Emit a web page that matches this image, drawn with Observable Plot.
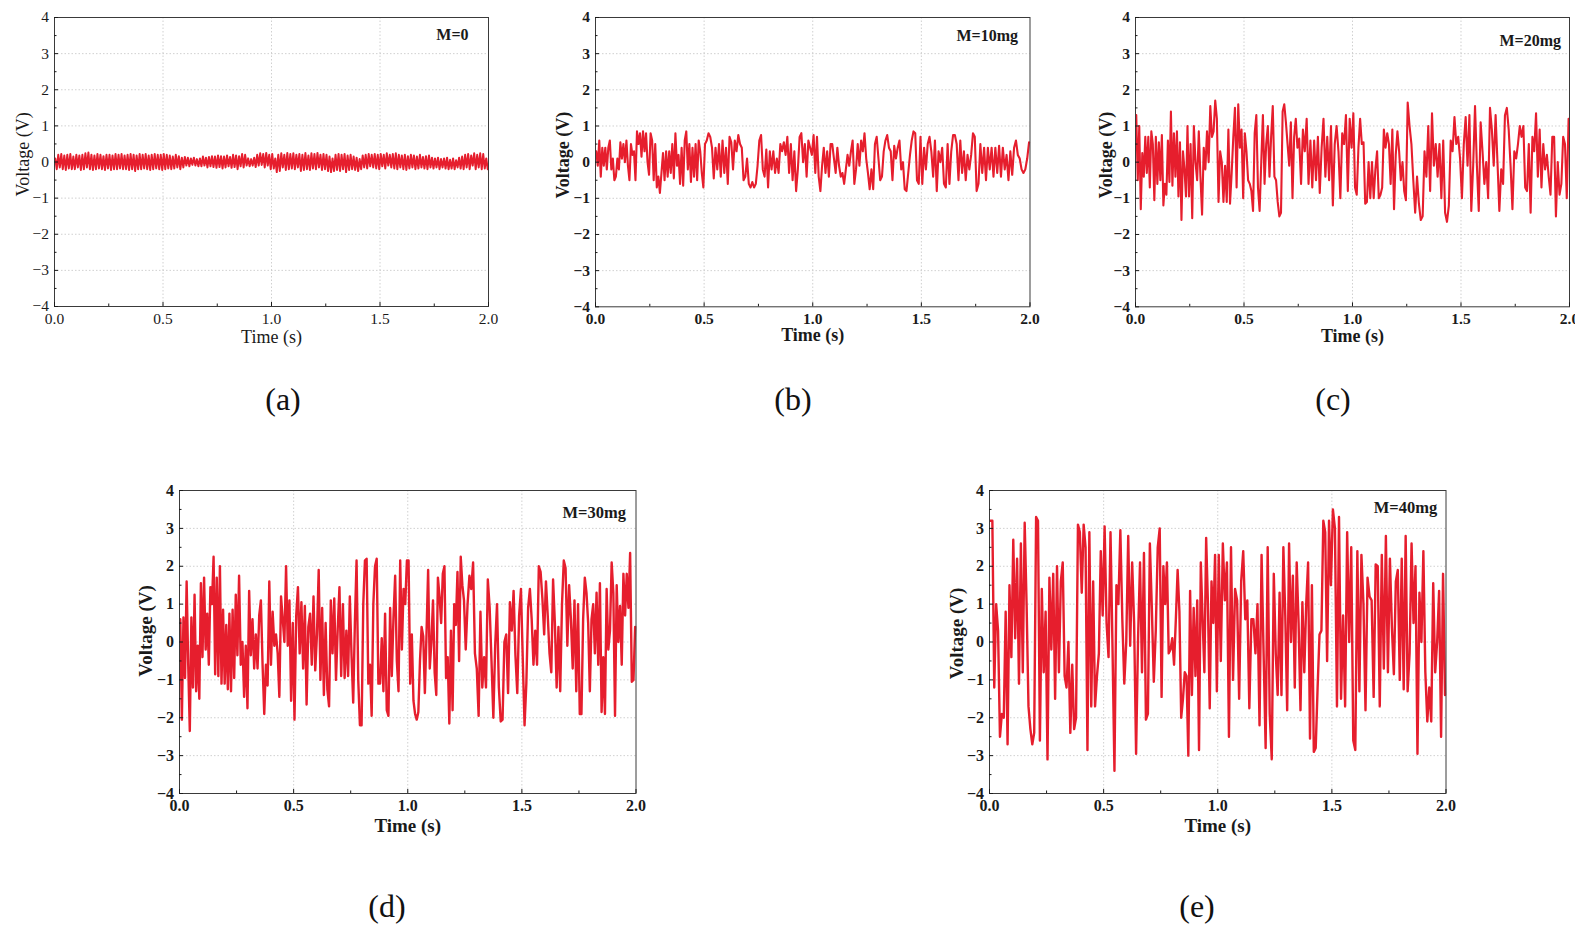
<!DOCTYPE html>
<html><head><meta charset="utf-8">
<script src="https://cdn.jsdelivr.net/npm/d3@7"></script>
<script src="https://cdn.jsdelivr.net/npm/@observablehq/plot@0.6"></script>
<style>
html,body{margin:0;padding:0;background:#fff;}
body{width:1596px;height:930px;overflow:hidden;position:relative;font-family:"Liberation Serif",serif;}
.panel{position:absolute;}
.panel svg{max-width:none !important;}
.cap{position:absolute;font-family:"Liberation Serif",serif;font-size:32px;line-height:1;transform:translate(-50%,-50%);color:#111;white-space:nowrap;}
</style></head><body>
<script>
// ---------- axes / labels ----------
const timeTicks = [0, 0.5, 1.0, 1.5, 2.0];
const timeMinor = [0.25, 0.75, 1.25, 1.75];
const timeGrid = [0.5, 1.0, 1.5];
const voltTicks = [-4, -3, -2, -1, 0, 1, 2, 3, 4];
const voltMinor = [-3.5, -2.5, -1.5, -0.5, 0.5, 1.5, 2.5, 3.5];
const voltGrid = [-3, -2, -1, 0, 1, 2, 3];
const xLabel = "Time (s)";
const yLabel = "Voltage (V)";
const massLabels = ["M=0", "M=10mg", "M=20mg", "M=30mg", "M=40mg"];
const captions = ["(a)", "(b)", "(c)", "(d)", "(e)"];
const segLen = 0.25; // each row below covers 0.25 s of the 2 s record

// ---------- voltage readings (V), one row per 0.25 s ----------
const voltA = [
 [0.1,-0.2,0.2,-0.15,0.22,-0.2,0.18,-0.22,0.2,-0.18,0.22,-0.2,0.15,-0.2,0.2,-0.15,0.18,-0.22,0.2,-0.2,0.24,-0.15,0.26,-0.2,0.2,-0.22,0.18,-0.2,0.22,-0.18,0.2,-0.2,0.16,-0.22,0.2,-0.18],
 [0.2,-0.22,0.18,-0.2,0.22,-0.2,0.2,-0.18,0.22,-0.2,0.18,-0.2,0.2,-0.22,0.22,-0.2,0.2,-0.25,0.18,-0.2,0.22,-0.2,0.2,-0.18,0.22,-0.2,0.18,-0.22,0.2,-0.2,0.22,-0.18,0.2,-0.2,0.2,-0.22],
 [0.22,-0.2,0.2,-0.18,0.18,-0.2,0.15,-0.18,0.2,-0.15,0.16,-0.2,0.12,-0.15,0.14,-0.1,0.12,-0.12,0.1,-0.08,0.12,-0.1,0.08,-0.12,0.1,-0.12,0.15,-0.1,0.12,-0.15,0.14,-0.12,0.16,-0.14,0.15,-0.16],
 [0.18,-0.14,0.16,-0.18,0.15,-0.15,0.18,-0.12,0.14,-0.16,0.2,-0.14,0.18,-0.2,0.16,-0.12,0.22,-0.15,0.2,-0.1,0.1,-0.12,0.08,-0.1,0.12,-0.14,0.2,-0.1,0.24,-0.08,0.22,-0.15,0.25,-0.1,0.2,-0.2],
 [0.22,-0.18,0.1,-0.28,0.2,-0.25,0.24,-0.15,0.2,-0.22,0.25,-0.2,0.22,-0.18,0.24,-0.2,0.2,-0.15,0.22,-0.25,0.2,-0.22,0.25,-0.2,0.18,-0.22,0.24,-0.18,0.22,-0.2,0.25,-0.15,0.2,-0.22,0.22,-0.2],
 [0.2,-0.25,0.15,-0.28,0.1,-0.25,0.2,-0.22,0.22,-0.25,0.2,-0.2,0.22,-0.28,0.18,-0.22,0.2,-0.2,0.15,-0.22,0.12,-0.25,0.08,-0.2,0.18,-0.15,0.2,-0.18,0.22,-0.12,0.2,-0.15,0.22,-0.18,0.2,-0.2],
 [0.22,-0.12,0.2,-0.18,0.24,-0.1,0.2,-0.15,0.22,-0.18,0.24,-0.2,0.2,-0.15,0.18,-0.2,0.2,-0.22,0.16,-0.18,0.2,-0.15,0.18,-0.2,0.15,-0.18,0.2,-0.15,0.14,-0.18,0.16,-0.2,0.18,-0.15,0.12,-0.18],
 [0.1,-0.15,0.12,-0.2,0.08,-0.15,0.1,-0.18,0.12,-0.2,0.06,-0.18,0.1,-0.2,0.05,-0.15,0.12,-0.18,0.15,-0.2,0.2,-0.15,0.22,-0.2,0.18,-0.1,0.24,-0.2,0.2,-0.15,0.24,-0.2,0.22,-0.18,0.1,-0.2]
];
const voltB = [
 [0.3,-0.1,0.6,-0.4,0.4,-0.1,0.4,-0.2,0.4,0.6,-0.2,0.1,-0.5,-0.4,0.1,-0.2,0.55,0.1,0.5,0.0,0.6,-0.1,-0.5,0.5,0.2,0.3,-0.5,0.85,0.5,0.8,0.15,0.85,0.3,0.8,0.0,-0.35],
 [0.8,0.6,-0.5,0.5,-0.7,-0.4,-0.85,-0.3,0.25,-0.5,0.3,-0.4,0.3,-0.3,0.5,-0.45,0.8,-0.1,0.2,-0.6,0.4,-0.65,0.6,0.85,-0.2,0.5,-0.55,0.4,-0.4,0.5,-0.5,0.6,0.3,-0.3,-0.7],
 [0.5,0.6,0.8,0.7,0.4,-0.45,0.4,-0.2,0.5,-0.4,0.6,-0.3,0.4,-0.6,0.7,0.55,-0.2,0.6,0.3,0.75,0.5,0.4,-0.5,-0.4,0.1,-0.6,-0.7,-0.55,-0.7,-0.6,-0.1],
 [0.6,0.75,-0.2,-0.4,0.35,-0.7,0.3,-0.2,0.3,-0.3,0.1,-0.3,0.5,0.3,0.55,0.2,0.7,-0.3,0.5,-0.5,0.3,-0.8,-0.2,0.7,0.8,0.0,0.5,-0.4,0.6,0.4,0.2],
 [0.75,-0.3,0.7,-0.4,-0.8,-0.1,0.4,-0.3,0.3,-0.4,0.5,0.5,0.1,-0.3,0.4,-0.1,-0.4,-0.3,-0.6,-0.2,0.2,-0.1,0.3,0.6,-0.6,-0.2,0.5,-0.1,0.6,0.3,0.8,0.1],
 [-0.3,-0.75,-0.2,-0.75,0.5,0.7,0.1,-0.5,-0.4,0.3,0.6,0.75,0.4,0.3,-0.5,0.45,0.1,0.4,0.6,-0.2,0.0,-0.75,-0.8,-0.3,0.2,0.6,0.85,0.8,-0.5,-0.6,0.7],
 [-0.6,0.4,-0.2,0.5,0.7,0.3,-0.4,0.6,-0.8,0.3,0.0,0.4,-0.6,-0.7,0.5,-0.6,0.3,0.75,0.75,0.5,-0.5,0.6,-0.3,0.3,-0.5,0.2,-0.2,0.2,0.8,0.7],
 [-0.8,-0.6,0.5,-0.3,0.4,-0.5,0.4,-0.2,0.4,-0.4,0.4,-0.3,0.45,-0.4,0.4,-0.2,0.2,-0.5,0.3,-0.35,0.4,0.6,0.2,0.1,-0.2,-0.3,-0.2,0.1,0.55]
];
const voltC = [
 [1.3,-0.5,1.0,-1.3,0.25,-0.4,0.7,-0.3,0.7,-0.7,0.85,0.5,-1.05,0.7,-0.6,0.55,-0.5,0.75,-1.2,-0.6,-0.9,0.6,-0.55,1.4,-0.65,0.8,-0.4,0.85,-0.95,0.55,-1.6,0.3,-0.2,-0.95,1.0,-0.95],
 [0.5,-1.55,1.0,0.0,-0.5,0.85,-0.4,-1.45,0.4,-0.2,0.85,0.0,1.55,0.7,0.85,1.7,1.2,-1.1,0.3,0.0,-1.1,-0.1,-1.1,0.9,-1.15,-0.3,0.7,1.5,-0.7,1.6,0.4,0.9,-1.0],
 [0.8,0.3,-0.5,-0.6,-0.8,-1.35,0.8,1.3,-0.7,-1.35,0.0,1.3,-0.6,0.5,1.0,-0.4,0.7,1.55,-0.4,-0.5,-1.1,-1.5,-1.4,1.4,1.6,1.1,0.5,-0.1,1.1,-1.0,0.7,1.2,0.4],
 [0.65,-0.6,0.9,0.3,1.2,-0.6,0.6,-0.7,0.6,-0.5,0.7,-0.85,0.4,1.2,-0.4,0.7,-0.5,1.0,-1.2,0.5,1.0,0.3,-1.0,0.8,0.5,1.3,-0.8,1.2,0.4],
 [1.35,-0.7,-0.9,0.4,1.2,0.5,0.55,-1.15,-1.1,0.0,-1.0,0.0,-1.0,-0.2,0.3,-1.0,-0.9,-0.7,0.9,0.4,0.8,0.5,-0.6,0.9,-1.3,0.2,0.85,0.3,-0.5,0.0,-0.8,-1.05],
 [1.65,1.0,0.5,-0.5,-1.4,-0.4,-1.15,-1.6,-1.5,0.3,-0.4,1.0,-0.8,1.35,-0.1,0.5,-0.4,0.5,-1.0,0.6,-1.4,-1.65,-1.2,0.6,0.3,1.25,0.5,0.7,0.1],
 [-1.0,0.5,1.25,-0.1,1.3,-1.35,-0.1,1.55,-0.1,-1.35,1.1,0.3,-0.6,0.0,-1.0,1.5,0.9,-0.1,1.3,0.0,-1.35,-0.2,-0.6,1.3,1.5,0.9,-0.1,-1.3,0.3],
 [0.1,0.5,1.0,0.7,1.0,-0.7,-0.8,0.5,-1.4,0.7,0.3,1.35,-0.4,0.9,-0.7,0.5,-0.2,0.2,-0.4,-0.9,0.7,0.7,-1.5,0.0,-0.9,-0.6,0.7,0.5,-1.0,1.2]
];
const voltD = [
 [0.6,-2.05,0.65,-0.95,1.6,-0.6,-2.35,0.65,-1.2,1.25,-1.3,-0.1,-1.5,1.55,-0.4,1.7,-0.2,0.75,-0.6,1.45,1.0,2.25,-0.85,1.7,-0.9,2.0,-1.1,0.85,-1.1,0.45,-1.25,0.75,-1.3,0.85,-0.95,1.25],
 [-0.35,1.75,-0.6,0.0,-1.45,-0.1,-1.75,1.35,-0.35,0.6,-0.7,0.2,-0.7,0.7,1.1,-0.6,-1.9,-0.6,-1.15,1.6,-0.6,0.8,-0.1,0.2,-0.3,-1.45,1.2,0.6,0.0,2.0,-0.1,1.1,-1.55,0.5],
 [-2.05,0.7,1.45,-0.3,1.05,-0.7,0.95,-1.65,0.4,0.75,-0.6,1.2,-0.75,0.2,1.9,-1.0,0.9,-1.4,0.5,-1.25,-1.7,1.1,-0.3,1.15,-1.0,0.35,1.45,-0.9,1.0,-0.95,0.3,-0.9,1.2],
 [-0.35,-1.6,0.5,2.15,-1.0,-2.2,-2.2,1.0,2.15,2.2,-1.1,-0.6,-1.95,1.0,2.0,2.2,-1.1,-1.1,0.1,-1.3,0.75,-1.8,-1.95,0.9,-0.9,0.65,1.75,-0.5,-1.3,2.15,-0.2,1.4,1.0,2.15],
 [2.15,-1.1,0.2,-1.55,-1.9,-2.05,-1.85,-0.5,0.4,0.15,-1.35,0.2,1.9,-0.7,0.0,1.1,-0.8,-1.4,1.7,1.2,0.5,1.8,2.0,-0.95,-0.4,-2.15,0.3,-1.8,1.0,0.45,1.85,-0.5,2.25,1.5,1.1],
 [-0.2,1.0,1.75,1.4,2.1,-0.3,-0.7,-1.95,0.8,-1.2,-0.4,-1.2,1.65,0.9,-0.5,-2.0,-0.1,1.0,-1.2,-2.1,-2.05,0.0,0.2,-1.35,1.05,0.3,1.35,-0.35,-1.35,0.7,1.4],
 [-0.45,-2.2,-1.1,0.9,1.4,0.6,-0.6,0.3,-0.6,2.0,1.85,1.15,0.2,1.6,0.7,-0.3,-0.8,1.65,0.5,-1.2,0.4,-1.3,1.0,2.15,1.95,-0.1,1.5,0.6,-0.7,1.1,-1.3,1.0],
 [-1.9,-1.9,0.6,1.7,1.3,0.5,-1.3,0.6,1.0,-0.3,1.3,-0.6,1.55,-1.85,-0.4,-1.9,1.4,-0.2,0.3,2.1,1.3,-1.95,1.5,0.0,0.95,-0.6,1.8,0.7,1.8,0.9,2.35,-1.05,-1.0,0.4]
];
const voltE = [
 [3.2,3.2,-1.2,1.0,0.3,-2.5,-1.9,-2.0,0.8,-2.7,1.5,-0.4,2.7,0.1,2.2,-1.1,2.6,-0.8,3.15,1.0,-1.7,-2.3,-2.7,-2.4,3.3,3.2,-2.6,1.4,-0.8,0.8],
 [-3.1,1.7,-0.2,1.8,-1.5,2.0,-0.8,1.6,2.1,-0.9,-1.2,0.0,-2.4,-0.6,-2.3,-2.0,3.1,2.9,1.3,3.1,2.5,-2.85,2.9,-1.7,1.6,-1.7,-0.9,-0.3,2.4,0.7],
 [3.05,0.5,-0.4,2.9,-0.1,-3.4,1.5,1.0,2.95,0.6,-1.1,0.0,2.8,-0.1,2.1,0.5,-2.95,0.1,2.1,-0.8,2.35,-2.05,-1.9,2.6,0.9,-1.05,0.3,2.5,3.0],
 [-1.45,2.0,1.0,2.1,-0.3,-0.2,0.1,-0.6,0.6,1.9,0.8,-2.0,-1.5,-0.8,-0.9,-3.0,1.35,-1.4,0.9,-0.9,1.1,-2.85,2.1,0.6,-0.8,2.75,1.0,-1.75,1.6,0.5,2.3,-1.3],
 [2.3,-0.5,2.6,1.1,2.1,-2.5,2.5,-1.0,1.4,1.1,-1.5,1.6,2.4,0.6,1.1,-1.75,0.6,0.6,-0.3,1.0,-2.2,2.3,-0.3,-2.8,2.5,-1.9,-3.1,1.8],
 [-0.3,-1.4,1.3,-1.4,2.5,0.7,-1.8,2.6,0.0,1.75,-1.2,2.1,0.5,-1.8,1.05,-0.8,1.0,2.1,-2.55,1.5,-2.9,-2.8,-1.2,0.2,0.3,3.2,2.9,-0.5,3.2,1.5],
 [3.5,3.0,-1.7,3.3,-1.5,0.7,-1.7,2.9,0.0,2.5,-2.6,-2.85,2.4,-1.3,2.3,1.0,-1.8,1.7,1.2,1.1,-1.45,2.05,2.0,-1.7,2.3,-0.7,2.8,-0.8],
 [2.2,0.4,-0.85,1.6,1.9,-1.0,2.2,-1.25,2.8,-1.3,-0.3,2.6,0.5,2.0,-2.95,1.3,0.0,2.4,-0.8,-2.1,-1.2,-2.1,1.55,-0.8,0.0,1.35,-2.5,1.8,-1.4]
];

// ---------- layout (pixels) ----------
const ML = 70, MR = 20, MT = 10, MB = 55;
const panels = [
 {volt: voltA, left: 54,    top: 16.7, w: 434,   h: 289,   bold: false, tick: 15.5, lab: 18, ann: 16,   annDx: -20,  annDy: 17.3, yDx: -31.3, yDy: -7.7, xDy: 31,   cx: 283,  cy: 399, sw: 2.0},
 {volt: voltB, left: 594.5, top: 16.7, w: 434.5, h: 289.3, bold: true,  tick: 15.5, lab: 18, ann: 16,   annDx: -12,  annDy: 18.3, yDx: -32,   yDy: -7,   xDy: 28.5, cx: 793,  cy: 399, sw: 2.1},
 {volt: voltC, left: 1135,  top: 16.7, w: 434,   h: 289.3, bold: true,  tick: 15.5, lab: 18, ann: 16,   annDx: -8.5, annDy: 23,   yDx: -29.5, yDy: -7,   xDy: 29,   cx: 1333, cy: 399, sw: 2.1, clipRight: 1575},
 {volt: voltD, left: 178.5, top: 490,  w: 456.5, h: 303,   bold: true,  tick: 16,   lab: 19, ann: 16.5, annDx: -10,  annDy: 22.7, yDx: -33.5, yDy: -11,  xDy: 32.5, cx: 387,  cy: 906, sw: 2.4},
 {volt: voltE, left: 989,   top: 490,  w: 456.5, h: 303,   bold: true,  tick: 16,   lab: 19, ann: 16.5, annDx: -8.8, annDy: 17.7, yDx: -33,   yDy: -8.5, xDy: 32,   cx: 1197, cy: 906, sw: 2.4}
];

function toSeries(rows) {
  const out = [];
  rows.forEach((row, k) => row.forEach((v, i) => out.push({t: k * segLen + segLen * (i + 0.5) / row.length, v})));
  return out;
}
const fmtV = d => d < 0 ? "\u2212" + Math.abs(d) : String(d);
const fmtT = d => d.toFixed(1);

panels.forEach((p, idx) => {
  const weight = p.bold ? "bold" : "normal";
  const svg = Plot.plot({
    width: p.w + ML + MR, height: p.h + MT + MB,
    marginLeft: ML, marginRight: MR, marginTop: MT, marginBottom: MB,
    x: {domain: [0, 2]}, y: {domain: [-4, 4]},
    style: {fontFamily: "'Liberation Serif', serif", fontSize: p.tick + "px", fontWeight: weight, color: "#1a1a1a", background: "transparent", overflow: "visible", maxWidth: "none"},
    marks: [
      Plot.ruleX(timeGrid, {stroke: "#c4c4c4", strokeWidth: 0.8, strokeDasharray: "1.5,2"}),
      Plot.ruleY(voltGrid, {stroke: "#c4c4c4", strokeWidth: 0.8, strokeDasharray: "1.5,2"}),
      Plot.line(toSeries(p.volt), {x: "t", y: "v", stroke: "#e61e2d", strokeWidth: p.sw}),
      Plot.frame({stroke: "#3a3a3a", strokeWidth: 1}),
      Plot.axisX({ticks: timeTicks, tickFormat: fmtT, tickSize: 4, tickPadding: 2, label: null}),
      Plot.axisX({ticks: timeMinor, tickFormat: () => "", tickSize: 2.5, tickPadding: 2, label: null}),
      Plot.axisY({ticks: voltTicks, tickFormat: fmtV, tickSize: 4, tickPadding: 1.5, label: null}),
      Plot.axisY({ticks: voltMinor, tickFormat: () => "", tickSize: 2.5, tickPadding: 1.5, label: null}),
      Plot.text([xLabel], {text: d => d, frameAnchor: "bottom", lineAnchor: "middle", textAnchor: "middle", dy: p.xDy, fontSize: p.lab, fontWeight: weight}),
      Plot.text([yLabel], {text: d => d, frameAnchor: "left", lineAnchor: "middle", textAnchor: "middle", rotate: -90, dx: p.yDx, dy: p.yDy, fontSize: p.lab, fontWeight: weight}),
      Plot.text([massLabels[idx]], {text: d => d, frameAnchor: "top-right", lineAnchor: "middle", textAnchor: "end", dx: p.annDx, dy: p.annDy, fontSize: p.ann, fontWeight: "bold", ariaLabel: "annot"})
    ]
  });
  svg.style.maxWidth = "none";
  // inward ticks
  d3.select(svg).selectAll("g[aria-label$='tick'] path").each(function() {
    const d = this.getAttribute("d");
    if (!d) return;
    this.setAttribute("d", d.replace(/L(-?[\d.]+),(-?[\d.]+)/, (m, a, b) => `L${-a},${-b}`));
  });
  // italic M in annotation
  d3.select(svg).selectAll("g[aria-label='annot'] text").each(function() {
    const s = this.textContent;
    this.textContent = "";
    d3.select(this).append("tspan").attr("font-style", "italic").text(s.slice(0, 1));
    d3.select(this).append("tspan").text(s.slice(1));
  });
  const box = document.createElement("div");
  box.className = "panel";
  box.style.left = (p.left - ML) + "px";
  box.style.top = (p.top - MT) + "px";
  if (p.clipRight) { box.style.width = (p.clipRight - (p.left - ML)) + "px"; box.style.overflow = "hidden"; box.style.height = (p.h + MT + MB) + "px"; }
  box.appendChild(svg);
  document.body.appendChild(box);
  const cap = document.createElement("div");
  cap.className = "cap";
  cap.textContent = captions[idx];
  cap.style.left = p.cx + "px";
  cap.style.top = p.cy + "px";
  document.body.appendChild(cap);
});
</script>
</body></html>
